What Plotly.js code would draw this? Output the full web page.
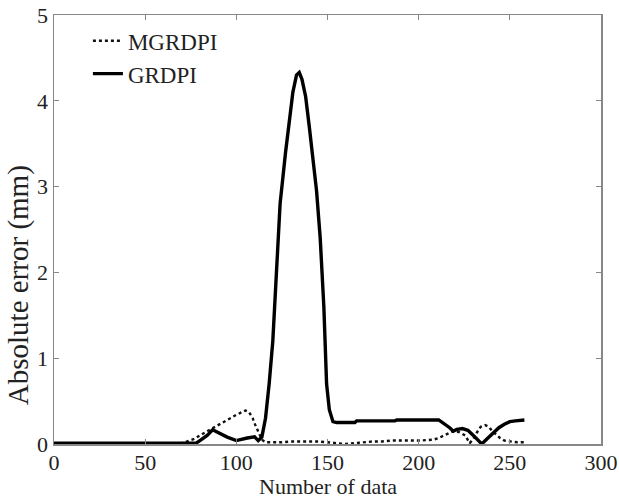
<!DOCTYPE html>
<html>
<head>
<meta charset="utf-8">
<script src="https://cdn.plot.ly/plotly-3.0.1.min.js"></script>
<style>html,body{margin:0;padding:0;background:#fff;}#chart{width:619px;height:498px;}</style>
</head>
<body>
<div id="chart"></div>
<script>
// GRDPI (solid)
const grdpiX = [0,20,40,60,78,80,84,87,90,95,100,103,106,110,112,114,116,118,120,122,124,127,129,131,133,134.5,136,138,140,142,144,146,148,149.5,151,153,155,165,166,187,188,211,214,217,219,221,224,227,230,234.6,238,241,244,247,250,253,258];
const grdpiY = [0.01,0.01,0.01,0.01,0.01,0.04,0.10,0.165,0.13,0.08,0.04,0.06,0.07,0.085,0.04,0.08,0.30,0.70,1.20,2.00,2.80,3.40,3.75,4.10,4.30,4.33,4.25,4.05,3.70,3.35,2.95,2.40,1.60,0.70,0.40,0.26,0.25,0.25,0.27,0.27,0.28,0.28,0.24,0.19,0.15,0.17,0.18,0.16,0.10,0.00,0.07,0.13,0.19,0.23,0.26,0.27,0.28];
// MGRDPI (dotted)
const mgrdpiX = [0,20,40,60,70,73,77,80,84,87,91,95,100,103,105,107,109,110,112,114,116,120,125,130,135,140,145,150,155,160,165,170,175,180,185,190,200,208,211,214,217,219,222,225.5,228,230,231.5,234,236.5,238.5,240,242,244.6,247,250,254,258];
const mgrdpiY = [0.01,0.01,0.01,0.01,0.01,0.03,0.06,0.10,0.15,0.19,0.24,0.28,0.34,0.37,0.39,0.37,0.30,0.24,0.14,0.05,0.02,0.02,0.02,0.03,0.03,0.03,0.03,0.02,0.01,0.00,0.01,0.02,0.03,0.03,0.04,0.04,0.04,0.05,0.07,0.10,0.13,0.15,0.14,0.10,0.01,0.06,0.12,0.20,0.22,0.20,0.16,0.12,0.07,0.04,0.03,0.02,0.02];
const xTicks = [0,50,100,150,200,250,300];
const yTicks = [0,1,2,3,4,5];
const seriesNames = ['MGRDPI','GRDPI'];
const xTitle = 'Number of data';
const yTitle = 'Absolute error (mm)';

const fam = 'Liberation Serif, Times New Roman, serif';
function mkFont(size) { return {family: fam, color: '#222', size: size}; }

const traces = [
  {x: mgrdpiX, y: mgrdpiY, name: seriesNames[0], mode: 'lines', line: {color: '#111', width: 2.4, dash: 'dot'}},
  {x: grdpiX, y: grdpiY, name: seriesNames[1], mode: 'lines', line: {color: '#000', width: 3.4}}
];

function axis(extra) {
  return Object.assign({
    showgrid: false, zeroline: false, showline: true, mirror: 'ticks',
    linecolor: '#888', linewidth: 1.5, ticks: 'inside', ticklen: 5, tickcolor: '#888', tickwidth: 1,
    tickfont: mkFont(22)
  }, extra);
}

const layout = {
  width: 619, height: 498,
  margin: {l: 54, r: 18, t: 15, b: 54},
  paper_bgcolor: '#fff', plot_bgcolor: '#fff',
  font: mkFont(22),
  showlegend: true,
  legend: {x: 0.062, y: 0.99, xanchor: 'left', yanchor: 'top', bgcolor: 'rgba(0,0,0,0)', font: mkFont(23), tracegroupgap: 0},
  xaxis: axis({range: [0, 300], tickvals: xTicks, ticktext: xTicks.map(String), ticklabelstandoff: -2}),
  yaxis: axis({range: [0, 5], tickvals: yTicks, ticktext: yTicks.map(String)}),
  annotations: [
    {text: xTitle, xref: 'paper', yref: 'paper', x: 0.5, y: -0.099, xanchor: 'center', yanchor: 'middle',
     showarrow: false, font: mkFont(22)},
    {text: yTitle, xref: 'paper', yref: 'paper', x: -0.066, y: 0.37, xanchor: 'center', yanchor: 'middle',
     textangle: -90, showarrow: false, font: mkFont(29)}
  ]
};

Plotly.newPlot('chart', traces, layout, {displayModeBar: false, staticPlot: true});
</script>
</body>
</html>
